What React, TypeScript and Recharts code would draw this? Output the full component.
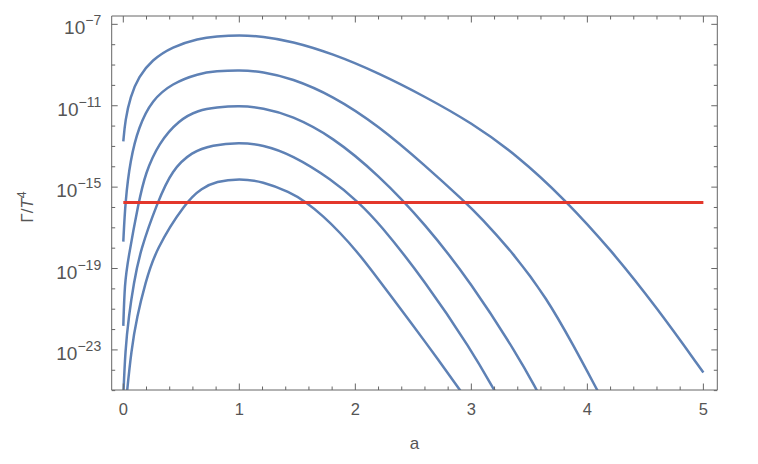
import { LineChart, Line, XAxis, YAxis, Label } from 'recharts'

const BLUE = '#5e81b5'
const RED = '#e3372b'
const FRAME = '#666666'
const TEXT = '#555555'
const FONT = '"Liberation Sans", Arial, sans-serif'

// a and log10(Γ/T^4), one pair per curve (top to bottom)
const a1 = [0, 0.017, 0.06, 0.133, 0.247, 0.42, 0.65, 0.8, 1.0, 1.2, 1.45, 1.8, 2.2, 2.6, 3.0, 3.4, 3.8, 4.2, 4.6, 5.0]
const e1 = [-12.75, -11.7, -10.56, -9.57, -8.75, -8.1, -7.69, -7.59, -7.53, -7.59, -7.83, -8.43, -9.39, -10.55, -11.83, -13.46, -15.57, -18.06, -20.93, -24.11]

const a2 = [0, 0.017, 0.06, 0.133, 0.247, 0.42, 0.65, 0.8, 1.0, 1.2, 1.45, 1.8, 2.2, 2.6, 2.946, 3.075, 3.362, 3.65, 3.88, 4.084, 4.12]
const e2 = [-17.68, -15.71, -13.66, -12.03, -10.72, -9.9, -9.41, -9.3, -9.24, -9.32, -9.65, -10.49, -11.98, -13.93, -15.73, -16.45, -18.25, -20.45, -22.78, -24.96, -25.35]

const a3 = [0, 0.012, 0.04, 0.133, 0.19, 0.305, 0.478, 0.65, 0.8, 1.0, 1.2, 1.45, 1.8, 2.2, 2.6, 3.0, 3.4, 3.562, 3.6]
const e3 = [-21.82, -19.72, -18.58, -15.71, -14.32, -12.84, -11.7, -11.21, -11.08, -11.0, -11.1, -11.48, -12.51, -14.4, -16.79, -19.72, -23.27, -24.96, -25.36]

const a4 = [0, 0.017, 0.047, 0.09, 0.147, 0.297, 0.42, 0.592, 0.765, 1.0, 1.2, 1.45, 1.8, 2.026, 2.2, 2.6, 3.0, 3.196, 3.23]
const e4 = [-25.3, -23.0, -21.36, -19.72, -18.09, -15.71, -14.16, -13.26, -12.93, -12.8, -12.92, -13.4, -14.64, -15.74, -16.73, -19.61, -23.0, -24.96, -25.3]

const a5 = [0.028, 0.069, 0.118, 0.19, 0.276, 0.54, 0.678, 0.8, 1.0, 1.2, 1.437, 1.566, 1.724, 1.868, 2.012, 2.155, 2.3, 2.457, 2.73, 2.9, 2.93]
const e5 = [-25.3, -23.0, -21.36, -19.72, -18.09, -15.71, -15.05, -14.72, -14.58, -14.72, -15.25, -15.7, -16.42, -17.24, -18.15, -19.2, -20.3, -21.48, -23.6, -24.96, -25.2]

// red threshold
const redA = [0, 5]
const redExp = -15.75

const xTicks = [0, 0.2, 0.4, 0.6, 0.8, 1, 1.2, 1.4, 1.6, 1.8, 2, 2.2, 2.4, 2.6, 2.8, 3, 3.2, 3.4, 3.6, 3.8, 4, 4.2, 4.4, 4.6, 4.8, 5]
const xLabels = [0, 1, 2, 3, 4, 5]
const yTickExps = [-7, -8, -9, -10, -11, -12, -13, -14, -15, -16, -17, -18, -19, -20, -21, -22, -23, -24, -25]
const yLabelExps = [-7, -11, -15, -19, -23]

const xDomain = [-0.1, 5.12]
const yDomain = [Math.pow(10, -24.97), Math.pow(10, -6.59)]

const rows = (a: number[], e: number[]) => a.map((v, i) => ({ a: v, y: Math.pow(10, e[i]) }))
const curves = [rows(a1, e1), rows(a2, e2), rows(a3, e3), rows(a4, e4), rows(a5, e5)]
const redRows = redA.map((v) => ({ a: v, y: Math.pow(10, redExp) }))
const yTicks = yTickExps.map((e) => Math.pow(10, e))

const isMajorX = (v: number) => xLabels.some((l) => Math.abs(l - v) < 1e-6)
const expOf = (v: number) => Math.round(Math.log10(v))

function BottomTick({ x, y, payload }: any) {
  const major = isMajorX(payload.value)
  return (
    <g>
      <line x1={x} y1={y} x2={x} y2={y - (major ? 6.5 : 3.5)} stroke={FRAME} />
      {major && (
        <text x={x} y={y + 25} textAnchor="middle" fill={TEXT} fontSize={16.5} fontFamily={FONT}>
          {Math.round(payload.value)}
        </text>
      )}
    </g>
  )
}

function TopTick({ x, y, payload }: any) {
  const major = isMajorX(payload.value)
  return <line x1={x} y1={y} x2={x} y2={y + (major ? 6.5 : 3.5)} stroke={FRAME} />
}

function LeftTick({ x, y, payload }: any) {
  const e = expOf(payload.value)
  const major = yLabelExps.includes(e)
  return (
    <g>
      <line x1={x} y1={y} x2={x + (major ? 6 : 3.5)} y2={y} stroke={FRAME} />
      {major && (
        <text x={x - 10.5} y={y + 10} textAnchor="end" fill={TEXT} fontSize={19} fontFamily={FONT}>
          10
          <tspan dy={-9} fontSize={14}>{'\u2212' + Math.abs(e)}</tspan>
        </text>
      )}
    </g>
  )
}

function RightTick({ x, y, payload }: any) {
  const major = yLabelExps.includes(expOf(payload.value))
  return <line x1={x} y1={y} x2={x - (major ? 6 : 3.5)} y2={y} stroke={FRAME} />
}

export default function App() {
  return (
    <LineChart width={742} height={448} margin={{ top: 7, right: 31.7, bottom: 65, left: 102.7 }}>
      <XAxis
        dataKey="a"
        type="number"
        domain={xDomain}
        ticks={xTicks}
        interval={0}
        allowDataOverflow
        height={1}
        tickSize={0}
        tickMargin={0}
        tick={(p: any) => <BottomTick {...p} />}
        axisLine={{ stroke: FRAME }}
      >
        <Label
          content={() => (
            <text x={406.5} y={441} textAnchor="middle" fill={TEXT} fontSize={17} fontFamily={FONT}>
              a
            </text>
          )}
        />
      </XAxis>
      <XAxis
        xAxisId="top"
        orientation="top"
        dataKey="a"
        type="number"
        domain={xDomain}
        ticks={xTicks}
        interval={0}
        allowDataOverflow
        height={1}
        tickSize={0}
        tickMargin={0}
        tick={(p: any) => <TopTick {...p} />}
        axisLine={{ stroke: FRAME }}
      />
      <YAxis
        type="number"
        scale="log"
        domain={yDomain}
        ticks={yTicks}
        interval={0}
        allowDataOverflow
        width={1}
        tickSize={0}
        tickMargin={0}
        tick={(p: any) => <LeftTick {...p} />}
        axisLine={{ stroke: FRAME }}
      >
        <Label
          content={() => (
            <text
              x={25}
              y={199}
              transform="rotate(-90 25 199)"
              textAnchor="middle"
              fill={TEXT}
              fontSize={17}
              fontFamily={FONT}
            >
              {'\u0393/'}
              <tspan fontStyle="italic">T</tspan>
              <tspan dy={-7} fontSize={12.5}>4</tspan>
            </text>
          )}
        />
      </YAxis>
      <YAxis
        yAxisId="right"
        orientation="right"
        type="number"
        scale="log"
        domain={yDomain}
        ticks={yTicks}
        interval={0}
        allowDataOverflow
        width={1}
        tickSize={0}
        tickMargin={0}
        tick={(p: any) => <RightTick {...p} />}
        axisLine={{ stroke: FRAME }}
      />
      {curves.map((d, i) => (
        <Line
          key={i}
          data={d}
          dataKey="y"
          type="basis"
          stroke={BLUE}
          strokeWidth={2.5}
          dot={false}
          isAnimationActive={false}
        />
      ))}
      <Line
        data={redRows}
        dataKey="y"
        type="linear"
        stroke={RED}
        strokeWidth={3}
        dot={false}
        isAnimationActive={false}
      />
    </LineChart>
  )
}
